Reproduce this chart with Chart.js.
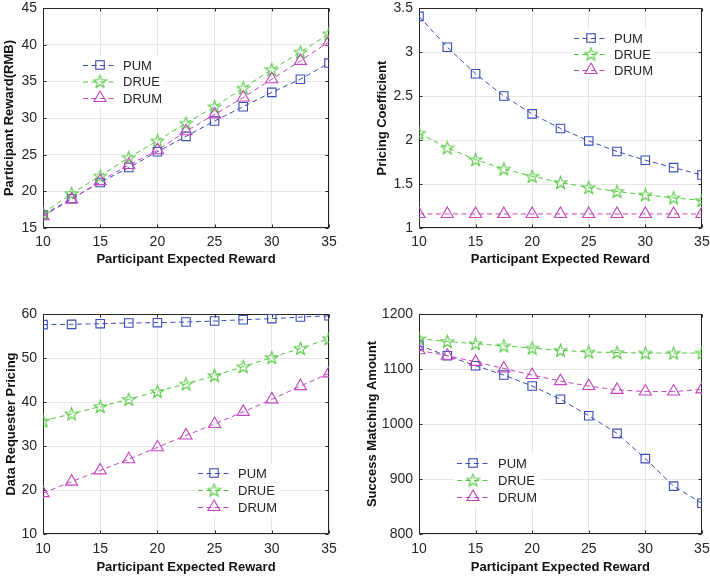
<!DOCTYPE html>
<html><head><meta charset="utf-8">
<script src="https://cdn.jsdelivr.net/npm/chart.js@4.4.1/dist/chart.umd.min.js"></script>
<style>
html,body{margin:0;padding:0;background:#fff;width:710px;height:577px;overflow:hidden}
canvas{position:absolute}
</style></head><body>
<canvas id="c1" width="355" height="290" style="left:0;top:0"></canvas>
<canvas id="c2" width="355" height="290" style="left:355px;top:0"></canvas>
<canvas id="c3" width="355" height="287" style="left:0;top:290px"></canvas>
<canvas id="c4" width="355" height="287" style="left:355px;top:290px"></canvas>
<script>
// ---------- data ----------
const xValues = [10, 12.5, 15, 17.5, 20, 22.5, 25, 27.5, 30, 32.5, 35];
const xTicks = [10, 15, 20, 25, 30, 35];
const seriesNames = ['PUM', 'DRUE', 'DRUM'];
const xTitle = 'Participant Expected Reward';

// Panel 1: Participant Reward(RMB)
const rewardPUM  = [16.8, 19.0, 21.2, 23.25, 25.4, 27.5, 29.6, 31.55, 33.5, 35.3, 37.5];
const rewardDRUE = [17.0, 19.7, 22.1, 24.6, 26.9, 29.3, 31.55, 34.1, 36.6, 39.0, 41.5];
const rewardDRUM = [16.6, 18.9, 21.4, 23.6, 25.6, 28.2, 30.5, 32.8, 35.3, 37.8, 40.4];
const rewardTicks = [15, 20, 25, 30, 35, 40, 45];

// Panel 2: Pricing Coefficient
const coefPUM  = [3.406, 3.055, 2.753, 2.50, 2.297, 2.131, 1.99, 1.87, 1.77, 1.686, 1.603];
const coefDRUE = [2.078, 1.912, 1.777, 1.671, 1.588, 1.517, 1.46, 1.415, 1.377, 1.343, 1.313];
const coefDRUM = [1.16, 1.16, 1.16, 1.16, 1.16, 1.16, 1.16, 1.16, 1.16, 1.16, 1.16];
const coefTicks = [1, 1.5, 2, 2.5, 3, 3.5];

// Panel 3: Data Requester Pricing
const pricePUM  = [57.58, 57.65, 57.8, 57.96, 58.03, 58.18, 58.4, 58.7, 58.94, 59.3, 59.6];
const priceDRUE = [35.7, 37.3, 38.97, 40.6, 42.4, 44.1, 46.0, 48.05, 50.1, 52.2, 54.4];
const priceDRUM = [19.3, 21.9, 24.45, 27.0, 29.7, 32.4, 35.0, 37.76, 40.6, 43.6, 46.5];
const priceTicks = [10, 20, 30, 40, 50, 60];

// Panel 4: Success Matching Amount
const matchPUM  = [1143, 1124, 1106, 1089, 1069, 1045, 1015, 983, 937, 887, 856];
const matchDRUE = [1155, 1150, 1146, 1142, 1138, 1134, 1131, 1130, 1129, 1129, 1129];
const matchDRUM = [1134, 1124, 1113, 1101, 1089, 1078, 1069, 1062, 1059, 1059, 1063];
const matchTicks = [800, 900, 1000, 1100, 1200];

// ---------- styles ----------
const FONT = '"Liberation Sans", Arial, Helvetica, sans-serif';
const TXT = '#262626';
const COL = {PUM: '#3a4db5', DRUE: '#52c83e', DRUM: '#c445be'};

function makeStar(color) {
  const c = document.createElement('canvas');
  c.width = 15; c.height = 15;
  const g = c.getContext('2d');
  g.strokeStyle = color; g.lineWidth = 1.1;
  g.beginPath();
  for (let i = 0; i < 10; i++) {
    const r = i % 2 ? 2.7 : 6.6;
    const a = -Math.PI / 2 + i * Math.PI / 5;
    const px = 7.5 + r * Math.cos(a), py = 8 + r * Math.sin(a);
    if (i === 0) g.moveTo(px, py); else g.lineTo(px, py);
  }
  g.closePath(); g.stroke();
  return c;
}
const starImg = makeStar(COL.DRUE);

const MARK = {
  PUM:  {style: 'rect', radius: 6},
  DRUE: {style: starImg, radius: 6},
  DRUM: {style: 'triangle', radius: 7}
};

function ds(name, values, order) {
  return {
    label: name,
    data: xValues.map((x, i) => ({x: x, y: values[i]})),
    borderColor: COL[name],
    borderWidth: 1,
    borderDash: [5, 3.5],
    pointStyle: MARK[name].style,
    pointRadius: MARK[name].radius,
    pointHoverRadius: MARK[name].radius,
    pointBorderColor: COL[name],
    pointBackgroundColor: 'rgba(0,0,0,0)',
    pointBorderWidth: 1.1,
    fill: false,
    tension: 0,
    order: order
  };
}

// frame + inward ticks
const framePlugin = {
  id: 'frame',
  beforeDatasetsDraw(chart) {
    const ctx = chart.ctx, a = chart.chartArea;
    const xs = chart.scales.x, ys = chart.scales.y;
    const L = Math.round(a.left) + 0.5, R = Math.round(a.right) - 0.5;
    const T = Math.round(a.top) + 0.5, B = Math.round(a.bottom) - 0.5;
    ctx.save();
    ctx.strokeStyle = TXT; ctx.lineWidth = 1;
    ctx.strokeRect(L, T, R - L, B - T);
    ctx.beginPath();
    xs.ticks.forEach(t => {
      const p = Math.round(xs.getPixelForValue(t.value)) + 0.5;
      ctx.moveTo(p, B); ctx.lineTo(p, B - 3);
      ctx.moveTo(p, T); ctx.lineTo(p, T + 3);
    });
    ys.ticks.forEach(t => {
      const p = Math.round(ys.getPixelForValue(t.value)) + 0.5;
      ctx.moveTo(L, p); ctx.lineTo(L + 3, p);
      ctx.moveTo(R, p); ctx.lineTo(R - 3, p);
    });
    ctx.stroke();
    ctx.restore();
  }
};

function drawMarker(ctx, d, x, y) {
  const st = d.pointStyle, r = d.pointRadius;
  ctx.save();
  ctx.strokeStyle = d.pointBorderColor; ctx.lineWidth = 1.1;
  if (typeof st === 'object') {
    ctx.drawImage(st, x - st.width / 2, y - st.height / 2);
  } else if (st === 'rect') {
    const s = r * Math.SQRT1_2;
    ctx.strokeRect(x - s, y - s, 2 * s, 2 * s);
  } else if (st === 'triangle') {
    ctx.beginPath();
    let rad = 0;
    ctx.moveTo(x + Math.sin(rad) * r, y - Math.cos(rad) * r);
    rad += 2 * Math.PI / 3;
    ctx.lineTo(x + Math.sin(rad) * r, y - Math.cos(rad) * r);
    rad += 2 * Math.PI / 3;
    ctx.lineTo(x + Math.sin(rad) * r, y - Math.cos(rad) * r);
    ctx.closePath(); ctx.stroke();
  }
  ctx.restore();
}

const legendPlugin = {
  id: 'boxLegend',
  afterDatasetsDraw(chart) {
    const o = chart.options.plugins.boxLegend;
    const ctx = chart.ctx;
    const sets = chart.data.datasets;
    ctx.save();
    ctx.font = '13px ' + FONT;
    let maxW = 0;
    sets.forEach(d => { maxW = Math.max(maxW, ctx.measureText(d.label).width); });
    ctx.fillStyle = '#fff';
    ctx.fillRect(o.x - 3, o.y - o.dy / 2 - 1, o.lineLen + o.gap + maxW + 6, o.dy * sets.length + 2);
    sets.forEach((d, i) => {
      const yy = o.y + i * o.dy;
      ctx.strokeStyle = d.borderColor; ctx.lineWidth = 1;
      ctx.setLineDash([5, 3.5]);
      ctx.beginPath(); ctx.moveTo(o.x, yy + 0.5); ctx.lineTo(o.x + o.lineLen, yy + 0.5); ctx.stroke();
      ctx.setLineDash([]);
      drawMarker(ctx, d, o.x + o.lineLen / 2, yy);
      ctx.fillStyle = TXT; ctx.textBaseline = 'middle'; ctx.textAlign = 'left';
      ctx.fillText(d.label, o.x + o.lineLen + o.gap, yy + 1);
    });
    ctx.restore();
  }
};

function fixedAxis(size, horizontal) {
  return function (scale) {
    if (horizontal) scale.height = size; else scale.width = size;
    scale.paddingLeft = 0; scale.paddingRight = 0;
    scale.paddingTop = 0; scale.paddingBottom = 0;
  };
}
function setTicks(arr) {
  return function (scale) { scale.ticks = arr.map(v => ({value: v})); };
}

function makeChart(id, cfg) {
  const datasets = [
    ds('PUM', cfg.series[0], 2),
    ds('DRUE', cfg.series[1], 1),
    ds('DRUM', cfg.series[2], 0)
  ];
  return new Chart(document.getElementById(id), {
    type: 'line',
    data: {datasets: datasets},
    plugins: [framePlugin, legendPlugin],
    options: {
      responsive: false,
      animation: false,
      events: [],
      layout: {padding: cfg.pad},
      plugins: {
        legend: {display: false},
        tooltip: {enabled: false},
        boxLegend: cfg.legend
      },
      scales: {
        x: {
          type: 'linear',
          min: xValues[0], max: xValues[xValues.length - 1],
          afterBuildTicks: setTicks(xTicks),
          afterFit: fixedAxis(cfg.xH, true),
          grid: {color: '#e6e6e6', drawTicks: false, lineWidth: 1},
          border: {display: false},
          ticks: {
            padding: cfg.xTickPad,
            color: TXT,
            font: {family: FONT, size: 14},
            maxRotation: 0, autoSkip: false,
            callback: v => String(v)
          },
          title: {
            display: true, text: xTitle, color: '#111',
            font: {family: FONT, size: 13, weight: 'bold'},
            padding: {top: 0, bottom: cfg.xTitlePad}
          }
        },
        y: {
          type: 'linear',
          min: cfg.yTicks[0], max: cfg.yTicks[cfg.yTicks.length - 1],
          afterBuildTicks: setTicks(cfg.yTicks),
          afterFit: fixedAxis(cfg.yW, false),
          grid: {color: '#e6e6e6', drawTicks: false, lineWidth: 1},
          border: {display: false},
          ticks: {
            padding: 6,
            color: TXT,
            font: {family: FONT, size: 14},
            autoSkip: false,
            callback: v => String(v)
          },
          title: {
            display: true, text: cfg.yTitle, color: '#111',
            font: {family: FONT, size: 13, weight: 'bold'},
            padding: {top: cfg.yTitlePad, bottom: 0}
          }
        }
      }
    }
  });
}

makeChart('c1', {
  series: [rewardPUM, rewardDRUE, rewardDRUM], yTicks: rewardTicks,
  yTitle: 'Participant Reward(RMB)',
  pad: {left: 0, top: 7, right: 26, bottom: 0}, yW: 43, xH: 62,
  xTickPad: 6, xTitlePad: 23, yTitlePad: 2,
  legend: {x: 83, y: 65, dy: 16.5, lineLen: 34, gap: 6}
});
makeChart('c2', {
  series: [coefPUM, coefDRUE, coefDRUM], yTicks: coefTicks,
  yTitle: 'Pricing Coefficient',
  pad: {left: 0, top: 7, right: 6, bottom: 0}, yW: 64, xH: 62,
  xTickPad: 6, xTitlePad: 23, yTitlePad: 20,
  legend: {x: 219, y: 38, dy: 16, lineLen: 34, gap: 6}
});
makeChart('c3', {
  series: [pricePUM, priceDRUE, priceDRUM], yTicks: priceTicks,
  yTitle: 'Data Requester Pricing',
  pad: {left: 0, top: 24, right: 26, bottom: 0}, yW: 43, xH: 43,
  xTickPad: 7, xTitlePad: 2, yTitlePad: 4,
  legend: {x: 198, y: 183, dy: 17, lineLen: 32, gap: 8}
});
makeChart('c4', {
  series: [matchPUM, matchDRUE, matchDRUM], yTicks: matchTicks,
  yTitle: 'Success Matching Amount',
  pad: {left: 0, top: 24, right: 6, bottom: 0}, yW: 64, xH: 43,
  xTickPad: 7, xTitlePad: 2, yTitlePad: 10,
  legend: {x: 102, y: 173, dy: 17, lineLen: 32, gap: 9}
});
</script>
</body></html>
